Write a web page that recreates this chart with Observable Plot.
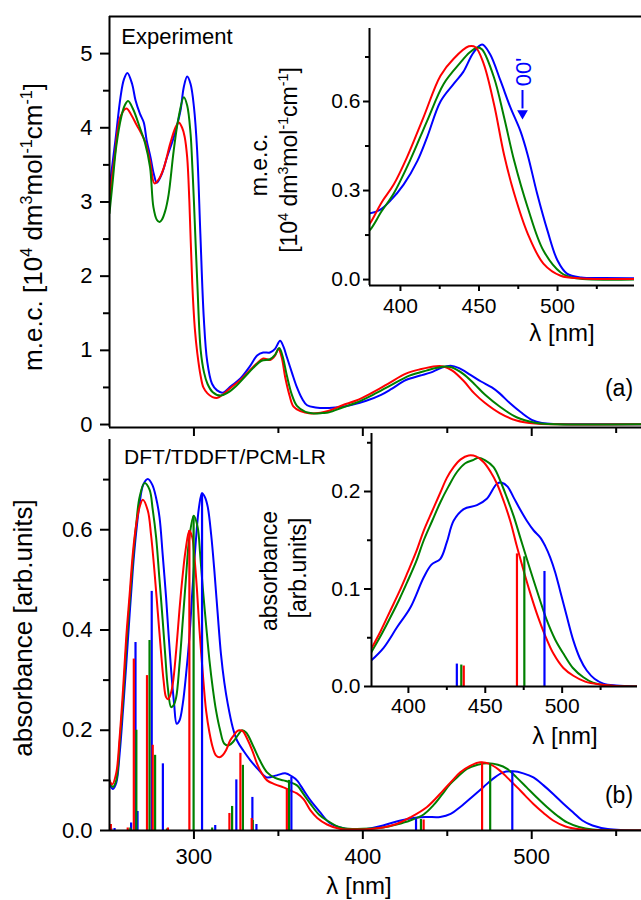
<!DOCTYPE html>
<html><head><meta charset="utf-8">
<script src="https://cdn.jsdelivr.net/npm/d3@7"></script>
<script src="https://cdn.jsdelivr.net/npm/@observablehq/plot@0.6"></script>
<style>
body{margin:0;background:#fff;}
#fig{position:relative;width:641px;height:900px;overflow:hidden;background:#fff;font-family:"Liberation Sans",Arial,Helvetica,sans-serif;color:#000;}
.lbl{position:absolute;white-space:nowrap;line-height:1;}
.lbl sup{font-size:62%;vertical-align:0.62em;line-height:0;}
</style></head><body><div id="fig"></div>
<script>
// ---------- colours ----------
const BLUE = "#0000ff", GREEN = "#008000", RED = "#ff0000";
const FONT = '"Liberation Sans", Arial, Helvetica, sans-serif';

// ---------- (a) experimental spectra (also used by inset a) ----------
const expBlueNm = [250,253.5,256.5,258.5,260.6,263.4,265.4,268,270.3,272,274.3,276.2,278,281,284,288,292,294,296,298,300,301.9,303.8,305.8,307.8,310.7,313.7,317,322,327.5,333,337.4,341,345,348,351,353,355,358,361,364,367,372,380,387,393.6,402,410.8,417,425.5,434,440,446.5,452,457,463.7,470,476.4,481,487,493.6,500,506,515,530,565];
const expBlueEps = [3.2,3.83,4.41,4.65,4.74,4.59,4.37,4.19,4.07,3.83,3.6,3.38,3.26,3.38,3.6,3.87,4.23,4.55,4.69,4.59,4.28,3.69,2.57,1.45,0.86,0.55,0.46,0.43,0.52,0.62,0.78,0.93,0.97,0.97,1.02,1.13,1.05,0.91,0.70,0.50,0.35,0.26,0.23,0.223,0.235,0.266,0.32,0.40,0.48,0.60,0.66,0.70,0.765,0.792,0.76,0.67,0.58,0.50,0.42,0.29,0.165,0.064,0.02,0.007,0.005,0.004];
const expRedNm = [250,253,256.5,260,263,266,268,271,274,276.6,279,282,286,289,291,293,294.5,296,297.3,299,300.5,302,304,305.6,308,311,314,318,322,327.5,333,337,341,345,348,350,352,354,356.5,359,363,369,375,380,388,395.7,404,414.6,425.5,434,443.5,447.8,453,459.6,466,472.4,481,491,502,515,565];
const expRedEps = [3.05,3.6,4.15,4.26,4.17,4.04,3.96,3.82,3.55,3.25,3.3,3.45,3.79,4.0,4.07,4.0,3.88,3.6,3.0,1.9,1.3,0.96,0.65,0.5,0.42,0.37,0.36,0.42,0.5,0.60,0.73,0.82,0.89,0.87,0.93,1.02,0.90,0.64,0.40,0.24,0.18,0.15,0.16,0.185,0.26,0.32,0.41,0.546,0.687,0.745,0.786,0.783,0.727,0.59,0.42,0.29,0.155,0.054,0.013,0.004,0.003];
const expGreenNm = [250,252,254,257,259,261,264,268,271,274,276,278,279.6,281,283,285,288,291,294,296,298,299,300,302,304,306,308,311,315.7,320,325,330,335,340,345,348,350.5,352.5,355,358,361,366,371,376,380,388,395.7,406,417,427.6,438,444,449,452,459.6,466,472.4,481,491,502,510,565];
const expGreenEps = [2.85,3.3,3.75,4.15,4.3,4.36,4.25,4.0,3.8,3.47,2.93,2.76,2.73,2.76,2.88,3.1,3.69,4.15,4.41,4.3,3.92,3.5,3.0,1.9,1.0,0.7,0.55,0.44,0.39,0.43,0.52,0.64,0.76,0.86,0.88,0.94,1.03,0.92,0.66,0.40,0.25,0.17,0.15,0.155,0.164,0.23,0.29,0.40,0.535,0.66,0.73,0.765,0.782,0.775,0.68,0.546,0.40,0.243,0.098,0.024,0.006,0.003];

// ---------- (b) calculated spectra ----------
const calcBlueNm = [250,252,254,256,258,259.9,261.9,263.8,265.8,267.8,270,272.7,275.3,277.5,279.6,281.5,283.5,285,286.5,288.2,289.8,291.5,293.4,295.3,297.3,299.3,301.3,303,304.8,306.5,308.2,310.2,312.1,314,316,318,320,323,325.6,329.5,333.4,338,343,349,354,358,361,365,369,374.8,380,386.7,393,400,412,420,428,437,445.8,452,457.7,465,471.5,477,483,489,495,501,507,512.7,518.6,524.6,530,536,545,565];
const calcBlueAbs = [0.093,0.083,0.095,0.153,0.24,0.33,0.43,0.52,0.595,0.652,0.69,0.701,0.69,0.665,0.625,0.55,0.465,0.39,0.319,0.255,0.213,0.22,0.253,0.31,0.385,0.49,0.585,0.645,0.673,0.665,0.645,0.59,0.518,0.435,0.352,0.295,0.253,0.205,0.179,0.158,0.14,0.122,0.106,0.11,0.114,0.108,0.10,0.08,0.06,0.036,0.016,0.006,0.002,0.002,0.01,0.018,0.024,0.027,0.027,0.033,0.047,0.068,0.087,0.103,0.116,0.118,0.114,0.106,0.09,0.073,0.054,0.036,0.02,0.01,0.003,0];
const calcGreenNm = [250,252,254,256,258,259.9,261.9,263.8,265.8,267.8,270.7,273.7,275.6,277.6,279.5,281.5,283,284.5,286.5,288,289.5,291.4,293.4,295.3,297.3,299.9,302.2,303.7,305.2,307.2,309.2,311.1,313.1,315.5,318,320.7,323.5,326,328.5,331,335.4,339,343.3,348,353,357,361,365,369,374,378.8,386.7,395,405,412,420,428,436,441.7,446.5,451.8,456.5,461.6,468,474,480,485.5,491,497,503,509,515,521,528,536,565];
const calcGreenAbs = [0.10,0.087,0.10,0.173,0.26,0.365,0.455,0.538,0.61,0.665,0.693,0.68,0.64,0.585,0.505,0.419,0.35,0.286,0.246,0.25,0.266,0.33,0.419,0.505,0.585,0.628,0.605,0.55,0.485,0.41,0.339,0.285,0.239,0.2,0.173,0.17,0.178,0.19,0.20,0.195,0.166,0.14,0.116,0.105,0.10,0.096,0.09,0.072,0.053,0.032,0.02,0.006,0.003,0.004,0.006,0.012,0.02,0.032,0.05,0.07,0.093,0.108,0.123,0.131,0.134,0.131,0.123,0.106,0.086,0.066,0.047,0.03,0.016,0.007,0.002,0];
const calcRedNm = [250,251.6,254,256,258,259.9,261.9,263.8,265.8,267.8,269.7,272.7,274.6,276.6,278.6,280.6,282,283.5,284.7,286,287.5,289.5,291.4,293.2,295,297.3,299,300.3,301.8,303.3,305.2,307.2,309.2,311.1,313,315.1,317,319,321.5,323.6,325.5,327,329,331.5,334.5,337.4,340,343.3,348,353,357,361,365,369,373,378.8,386.7,395,405,412,420,428,438,447.6,452.5,457.7,463.5,469.5,475,481,486,491.4,496,501,507,512.7,520,530,565];
const calcRedAbs = [0.10,0.092,0.115,0.186,0.28,0.385,0.47,0.552,0.61,0.645,0.66,0.638,0.59,0.518,0.435,0.352,0.3,0.266,0.262,0.27,0.293,0.36,0.439,0.505,0.558,0.598,0.585,0.545,0.48,0.399,0.315,0.239,0.195,0.166,0.15,0.146,0.15,0.16,0.18,0.19,0.198,0.20,0.198,0.183,0.16,0.133,0.115,0.10,0.092,0.086,0.08,0.074,0.062,0.04,0.025,0.012,0.003,0.002,0.003,0.006,0.013,0.026,0.047,0.08,0.098,0.116,0.129,0.136,0.133,0.12,0.104,0.086,0.07,0.053,0.035,0.02,0.008,0.002,0];

// ---------- (b) stick spectra (oscillator strengths, arb.) ----------
const stickBlueNm = [251,253,262.8,265.4,266.6,275.0,281.6,304.8,312.6,325.1,334.6,337,357.7,431.5,488.5];
const stickBlueF  = [0.004,0.004,0.015,0.375,0.038,0.477,0.133,0.673,0.01,0.101,0.066,0.012,0.106,0.023,0.118];
const stickGreenNm = [262.3,265.9,273.7,277.0,284,299.8,310.8,322.6,329,334.8,356.3,434.4,475.4];
const stickGreenF  = [0.005,0.2,0.379,0.15,0.003,0.627,0.005,0.048,0.13,0.02,0.10,0.022,0.133];
const stickRedNm = [250.8,260.8,264.4,272.2,275.6,284.6,297.3,321,327.5,334.2,355,436,470.6];
const stickRedF  = [0.012,0.005,0.342,0.309,0.17,0.005,0.598,0.034,0.154,0.024,0.083,0.021,0.136];

// ---------- inset (b) curves ----------
const insBlueNm = [375.8,384,392.7,401.3,410,415,420.8,425,429.4,436,444.6,451,457.6,460.8,464.5,468.4,472.5,477,481.5,485.7,489,492.2,495.5,498.7,503,507.3,511.5,516,521,526.8,535,549];
const insBlueAbs = [0.0267,0.04,0.061,0.081,0.112,0.125,0.131,0.148,0.17,0.182,0.186,0.1925,0.208,0.209,0.205,0.194,0.182,0.17,0.16,0.153,0.144,0.1325,0.117,0.098,0.072,0.047,0.029,0.0164,0.008,0.003,0.001,0];
const insRedNm = [375.8,382,388.3,394,399.2,405,410,415.5,420.8,425,429.4,434,439.2,444,449,453.5,457.6,462,466.2,470.5,474.9,479.2,483.6,489,494.4,500.8,507.3,515,524.7,535,549];
const insRedAbs = [0.0386,0.057,0.078,0.097,0.116,0.138,0.16,0.18,0.199,0.214,0.225,0.233,0.237,0.236,0.23,0.22,0.208,0.19,0.17,0.144,0.119,0.096,0.0745,0.052,0.0335,0.019,0.011,0.005,0.002,0.0005,0];
const insGreenNm = [375.8,382,388.3,394,399.2,405,410,415.5,420.8,426,431.6,437,442.4,445.6,450,455.4,460,464,468.4,472.7,477,481.4,485.7,490,495.5,500.9,507,513.8,520,530,549];
const insGreenAbs = [0.035,0.052,0.071,0.089,0.107,0.128,0.15,0.17,0.189,0.205,0.22,0.229,0.2325,0.2345,0.232,0.225,0.21,0.194,0.175,0.153,0.131,0.109,0.088,0.068,0.048,0.0335,0.019,0.0095,0.004,0.001,0];

// ---------- ticks ----------
const mainXMajor = [300,400,500], mainXMinor = [350,450,550];
const expYMajor = [0,1,2,3,4,5], expYMinor = [0.5,1.5,2.5,3.5,4.5];
const calcYMajor = [0,0.2,0.4,0.6], calcYMinor = [0.1,0.3,0.5,0.7];
const insXMajor = [400,450,500], insXMinor = [425,475,525];
const insAYMajor = [0,0.3,0.6], insAYMinor = [0.15,0.45,0.75];
const insBYMajor = [0,0.1,0.2], insBYMinor = [0.05,0.15,0.25];

// ---------- annotation in inset (a): 0-0' shoulder ----------
const arrowNm = [477.7], arrowFrom = [0.637], arrowTo = [0.575], arrowHead = [0.56];
const annoNm = [478.5], annoY = [0.70], annoText = ["00'"];

// ---------- texts ----------
const SUP = s => `<sup>${s}</sup>`;
const labels = [
  {html: "Experiment", cx: 177, cy: 37, fs: 22},
  {html: "DFT/TDDFT/PCM-LR", cx: 225, cy: 456, fs: 21},
  {html: "(a)", cx: 619, cy: 388, fs: 23},
  {html: "(b)", cx: 619, cy: 795, fs: 23},
  {html: "λ [nm]", cx: 562, cy: 333, fs: 24},
  {html: "λ [nm]", cx: 565, cy: 736, fs: 24},
  {html: "λ [nm]", cx: 359, cy: 886, fs: 24},
  {html: `m.e.c. [10${SUP(4)} dm${SUP(3)}mol${SUP("-1")}cm${SUP("-1")}]`, cx: 33, cy: 227, fs: 26, rot: -90},
  {html: "absorbance [arb.units]", cx: 23, cy: 628, fs: 26, rot: -90},
  {html: "m.e.c.", cx: 259, cy: 165, fs: 23, rot: -90},
  {html: `[10${SUP(4)} dm${SUP(3)}mol${SUP("-1")}cm${SUP("-1")}]`, cx: 289, cy: 160, fs: 23, rot: -90},
  {html: "absorbance", cx: 269, cy: 571, fs: 23, rot: -90},
  {html: "[arb.units]", cx: 298, cy: 568, fs: 23, rot: -90}
];

// ---------- helpers ----------
const fig = document.getElementById("fig");
const rows = (nm, v) => nm.map((x, i) => ({x, y: v[i]}));

function panel(o) {
  const ml = 120, mr = 12, mt = 12, mb = 60;
  const [x0, y0, x1, y1] = o.box;
  const marks = [];
  for (const s of o.curves) {
    marks.push(Plot.line(s.data, {x: "x", y: "y", stroke: s.color, strokeWidth: 2, curve: "catmull-rom", clip: true}));
  }
  for (const s of (o.sticks || [])) {
    marks.push(Plot.ruleX(s.data, {x: "x", y1: 0, y2: "y", stroke: s.color, strokeWidth: 2.2, clip: true}));
  }
  if (o.extra) marks.push(...o.extra);
  // axis lines
  marks.push(Plot.ruleX([o.xDomain[0]], {stroke: "black", strokeWidth: 2}));
  marks.push(Plot.ruleY([o.yDomain[0]], {stroke: "black", strokeWidth: 2}));
  if (o.topBorder) marks.push(Plot.ruleY([o.yDomain[1]], {stroke: "black", strokeWidth: 2}));
  // ticks
  marks.push(Plot.axisX(o.xMajor, {anchor: "bottom", tickSize: o.tMaj, tickPadding: o.xPad, fontSize: o.fs,
    tickFormat: o.xLabels ? (d => String(d)) : (() => ""), strokeWidth: 2, label: null}));
  marks.push(Plot.axisX(o.xMinor, {anchor: "bottom", tickSize: o.tMin, tickFormat: () => "", strokeWidth: 2, label: null}));
  marks.push(Plot.axisY(o.yMajor, {anchor: "left", tickSize: o.tMaj, tickPadding: o.yPad, fontSize: o.fs,
    tickFormat: o.yFmt, strokeWidth: 2, label: null}));
  marks.push(Plot.axisY(o.yMinor, {anchor: "left", tickSize: o.tMin, tickFormat: () => "", strokeWidth: 2, label: null}));
  const svg = Plot.plot({
    width: (x1 - x0) + ml + mr, height: (y1 - y0) + mt + mb,
    marginLeft: ml, marginRight: mr, marginTop: mt, marginBottom: mb,
    x: {domain: o.xDomain, label: null},
    y: {domain: o.yDomain, label: null},
    style: {fontFamily: FONT, background: "none", overflow: "visible", color: "black"},
    marks
  });
  svg.style.position = "absolute";
  svg.style.left = (x0 - ml) + "px";
  svg.style.top = (y0 - mt) + "px";
  svg.style.maxWidth = "none";
  fig.append(svg);
}

// (a) main
panel({
  box: [109, 16, 641, 427], xDomain: [250, 565], yDomain: [-0.04, 5.5], topBorder: true,
  curves: [
    {data: rows(expBlueNm, expBlueEps), color: BLUE},
    {data: rows(expRedNm, expRedEps), color: RED},
    {data: rows(expGreenNm, expGreenEps), color: GREEN}
  ],
  xMajor: mainXMajor, xMinor: mainXMinor, xLabels: false, yMajor: expYMajor, yMinor: expYMinor,
  yFmt: d => String(d), tMaj: 9, tMin: 6, xPad: 9, yPad: 8, fs: 22
});

// (b) main
panel({
  box: [109, 439, 641, 830], xDomain: [250, 565], yDomain: [0, 0.78],
  curves: [
    {data: rows(calcBlueNm, calcBlueAbs), color: BLUE},
    {data: rows(calcGreenNm, calcGreenAbs), color: GREEN},
    {data: rows(calcRedNm, calcRedAbs), color: RED}
  ],
  sticks: [
    {data: rows(stickBlueNm, stickBlueF), color: BLUE},
    {data: rows(stickGreenNm, stickGreenF), color: GREEN},
    {data: rows(stickRedNm, stickRedF), color: RED}
  ],
  xMajor: mainXMajor, xMinor: mainXMinor, xLabels: true, yMajor: calcYMajor, yMinor: calcYMinor,
  yFmt: d => d.toFixed(1), tMaj: 9, tMin: 6, xPad: 9, yPad: 8, fs: 22
});

// inset (a)
panel({
  box: [369, 28, 634, 285], xDomain: [380.3, 549], yDomain: [-0.02, 0.846],
  curves: [
    {data: rows(expBlueNm, expBlueEps), color: BLUE},
    {data: rows(expGreenNm, expGreenEps), color: GREEN},
    {data: rows(expRedNm, expRedEps), color: RED}
  ],
  extra: [
    Plot.ruleX(arrowNm.map((x, i) => ({x, a: arrowFrom[i], b: arrowTo[i]})), {x: "x", y1: "a", y2: "b", stroke: BLUE, strokeWidth: 2}),
    Plot.dot(arrowNm.map((x, i) => ({x, y: arrowHead[i]})), {x: "x", y: "y", symbol: "triangle", rotate: 180, r: 4, fill: BLUE, stroke: "none"}),
    Plot.text(annoNm.map((x, i) => ({x, y: annoY[i], t: annoText[i]})), {x: "x", y: "y", text: "t", rotate: -90, fill: BLUE, fontSize: 22, fontFamily: FONT})
  ],
  xMajor: insXMajor, xMinor: insXMinor, xLabels: true, yMajor: insAYMajor, yMinor: insAYMinor,
  yFmt: d => d.toFixed(1), tMaj: 6, tMin: 4, xPad: 7, yPad: 3, fs: 21
});

// inset (b)
panel({
  box: [371, 433, 637, 686], xDomain: [376, 549], yDomain: [0, 0.2595],
  curves: [
    {data: rows(insBlueNm, insBlueAbs), color: BLUE},
    {data: rows(insGreenNm, insGreenAbs), color: GREEN},
    {data: rows(insRedNm, insRedAbs), color: RED}
  ],
  sticks: [
    {data: rows(stickBlueNm, stickBlueF), color: BLUE},
    {data: rows(stickGreenNm, stickGreenF), color: GREEN},
    {data: rows(stickRedNm, stickRedF), color: RED}
  ],
  xMajor: insXMajor, xMinor: insXMinor, xLabels: true, yMajor: insBYMajor, yMinor: insBYMinor,
  yFmt: d => d.toFixed(1), tMaj: 7, tMin: 4, xPad: 5, yPad: 4, fs: 21
});

// text labels
for (const l of labels) {
  const d = document.createElement("div");
  d.className = "lbl";
  d.innerHTML = l.html;
  d.style.fontSize = l.fs + "px";
  d.style.left = l.cx + "px";
  d.style.top = l.cy + "px";
  d.style.transform = "translate(-50%,-50%)" + (l.rot ? ` rotate(${l.rot}deg)` : "");
  fig.append(d);
}
</script></body></html>
